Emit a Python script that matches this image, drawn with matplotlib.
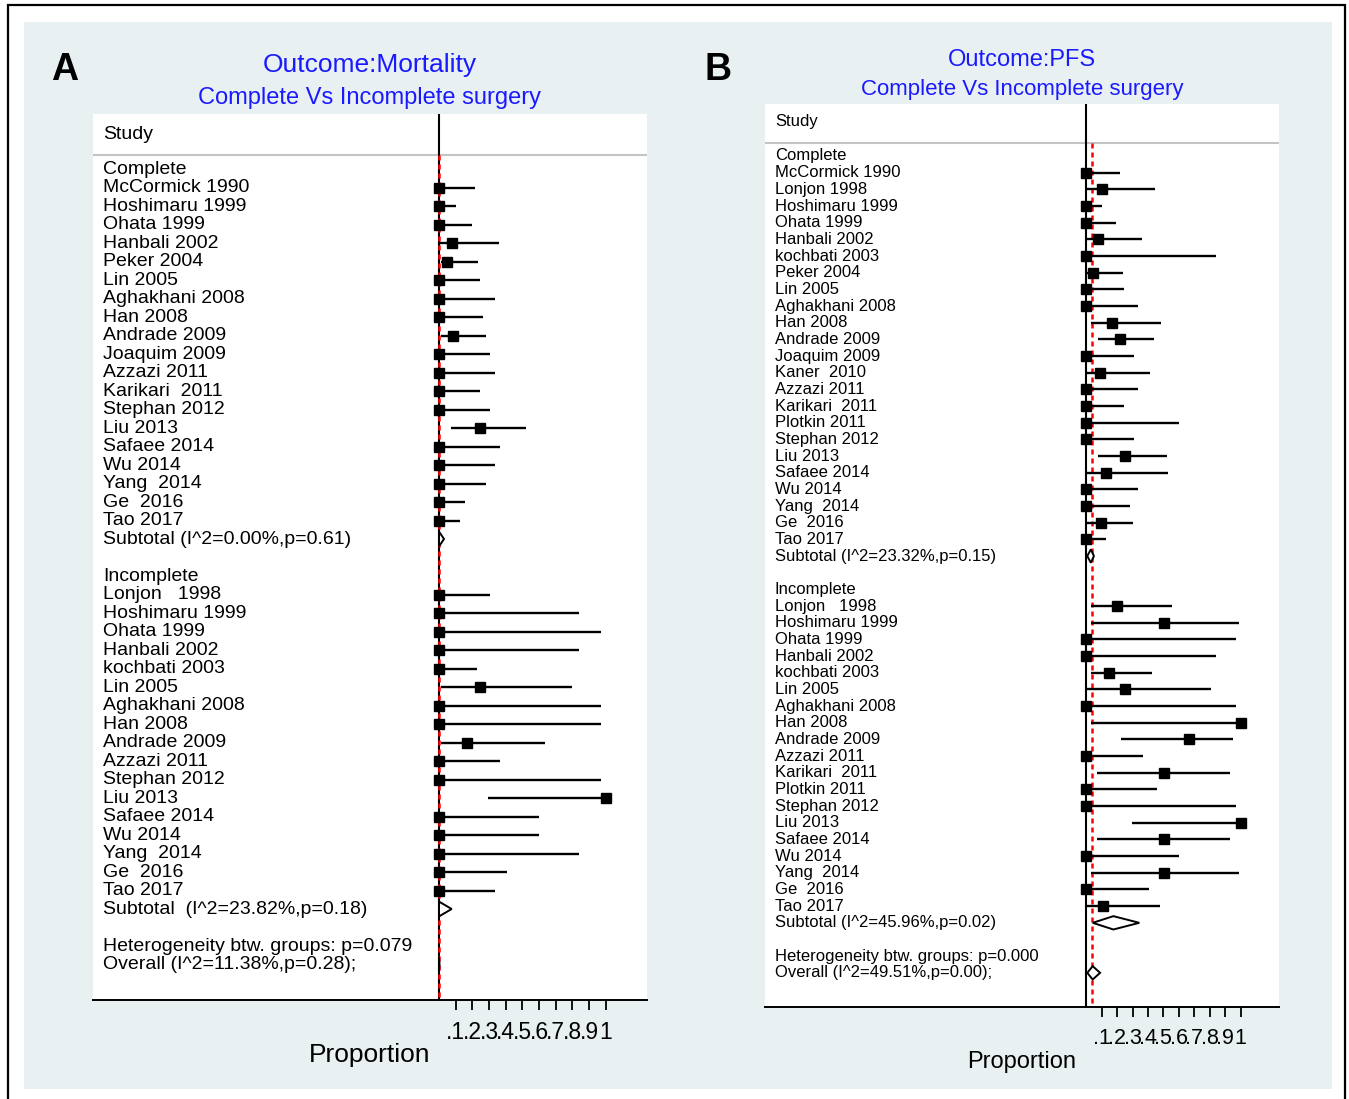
import numpy as np
import matplotlib
matplotlib.use('Agg')
from matplotlib import pyplot as plt
from matplotlib.patches import Rectangle, Polygon

plt.rcParams['font.family'] = ['Liberation Sans', 'DejaVu Sans']

# ---- Panel A: Mortality ----
a_comp_names = ["McCormick 1990", "Hoshimaru 1999", "Ohata 1999", "Hanbali 2002", "Peker 2004",
                "Lin 2005", "Aghakhani 2008", "Han 2008", "Andrade 2009", "Joaquim 2009",
                "Azzazi 2011", "Karikari  2011", "Stephan 2012", "Liu 2013", "Safaee 2014",
                "Wu 2014", "Yang  2014", "Ge  2016", "Tao 2017"]
a_comp_est = [0, 0, 0, 0.076, 0.046, 0, 0, 0, 0.086, 0, 0, 0, 0, 0.248, 0, 0, 0, 0, 0]
a_comp_lo = [0, 0, 0, 0.006, 0.01, 0, 0, 0, 0.01, 0, 0, 0, 0, 0.072, 0, 0, 0, 0, 0]
a_comp_hi = [0.216, 0.10, 0.196, 0.358, 0.236, 0.246, 0.336, 0.262, 0.28, 0.306,
             0.336, 0.246, 0.306, 0.522, 0.368, 0.336, 0.282, 0.158, 0.126]
a_comp_sub = (0.0, 0.0, 0.03)
a_comp_sub_text = "Subtotal (I^2=0.00%,p=0.61)"

a_inc_names = ["Lonjon   1998", "Hoshimaru 1999", "Ohata 1999", "Hanbali 2002", "kochbati 2003",
               "Lin 2005", "Aghakhani 2008", "Han 2008", "Andrade 2009", "Azzazi 2011",
               "Stephan 2012", "Liu 2013", "Safaee 2014", "Wu 2014", "Yang  2014",
               "Ge  2016", "Tao 2017"]
a_inc_est = [0, 0, 0, 0, 0, 0.248, 0, 0, 0.166, 0, 0, 1.0, 0, 0, 0, 0, 0]
a_inc_lo = [0, 0, 0, 0, 0, 0.01, 0, 0, 0.01, 0, 0, 0.292, 0, 0, 0, 0, 0]
a_inc_hi = [0.304, 0.838, 0.97, 0.838, 0.228, 0.8, 0.97, 0.97, 0.638, 0.366,
            0.97, 1.0, 0.598, 0.598, 0.838, 0.408, 0.334]
a_inc_sub = (0.0, 0.0, 0.076)
a_inc_sub_text = "Subtotal  (I^2=23.82%,p=0.18)"

a_overall = (0.0, 0.0, 0.003)
a_het_text = "Heterogeneity btw. groups: p=0.079"
a_overall_text = "Overall (I^2=11.38%,p=0.28);"

# ---- Panel B: PFS ----
b_comp_names = ["McCormick 1990", "Lonjon 1998", "Hoshimaru 1999", "Ohata 1999", "Hanbali 2002",
                "kochbati 2003", "Peker 2004", "Lin 2005", "Aghakhani 2008", "Han 2008",
                "Andrade 2009", "Joaquim 2009", "Kaner  2010", "Azzazi 2011", "Karikari  2011",
                "Plotkin 2011", "Stephan 2012", "Liu 2013", "Safaee 2014", "Wu 2014",
                "Yang  2014", "Ge  2016", "Tao 2017"]
b_comp_est = [0, 0.10, 0, 0, 0.076, 0, 0.046, 0, 0, 0.165, 0.219, 0, 0.092, 0, 0, 0, 0,
              0.252, 0.126, 0, 0, 0.096, 0]
b_comp_lo = [0, 0.003, 0, 0, 0.003, 0, 0.003, 0, 0, 0.03, 0.074, 0, 0.003, 0, 0, 0, 0,
             0.074, 0.003, 0, 0, 0.003, 0]
b_comp_hi = [0.219, 0.444, 0.102, 0.195, 0.36, 0.84, 0.236, 0.245, 0.336, 0.483, 0.437,
             0.308, 0.413, 0.336, 0.245, 0.599, 0.308, 0.524, 0.528, 0.336, 0.284, 0.301, 0.126]
b_comp_sub = (0.03, 0.007, 0.05)
b_comp_sub_text = "Subtotal (I^2=23.32%,p=0.15)"

b_inc_names = ["Lonjon   1998", "Hoshimaru 1999", "Ohata 1999", "Hanbali 2002", "kochbati 2003",
               "Lin 2005", "Aghakhani 2008", "Han 2008", "Andrade 2009", "Azzazi 2011",
               "Karikari  2011", "Plotkin 2011", "Stephan 2012", "Liu 2013", "Safaee 2014",
               "Wu 2014", "Yang  2014", "Ge  2016", "Tao 2017"]
b_inc_est = [0.202, 0.502, 0, 0, 0.146, 0.25, 0, 1.0, 0.666, 0, 0.502, 0, 0, 1.0, 0.502,
             0, 0.502, 0, 0.111]
b_inc_lo = [0.03, 0.03, 0, 0, 0.03, 0.003, 0, 0.03, 0.224, 0, 0.068, 0, 0, 0.295, 0.068,
            0, 0.03, 0, 0.003]
b_inc_hi = [0.556, 0.988, 0.973, 0.84, 0.424, 0.806, 0.973, 1.0, 0.953, 0.366, 0.932,
            0.459, 0.973, 1.0, 0.932, 0.599, 0.988, 0.409, 0.481]
b_inc_sub = (0.176, 0.042, 0.344)
b_inc_sub_text = "Subtotal (I^2=45.96%,p=0.02)"

b_overall = (0.042, 0.007, 0.09)
b_het_text = "Heterogeneity btw. groups: p=0.000"
b_overall_text = "Overall (I^2=49.51%,p=0.00);"

ticks = [0.1, 0.2, 0.3, 0.4, 0.5, 0.6, 0.7, 0.8, 0.9, 1.0]
tick_labels = [".1", ".2", ".3", ".4", ".5", ".6", ".7", ".8", ".9", "1"]

W, H = 1349, 1099
BG = '#e8f0f2'
BLUE = '#1a1aff'

fig = plt.figure(figsize=(W / 100, H / 100), dpi=100)
fig.patch.set_facecolor('white')
fig.patches.append(Rectangle((24 / W, 1 - 1089 / H), (1332 - 24) / W, (1089 - 22) / H,
                             transform=fig.transFigure, facecolor=BG, edgecolor='none', zorder=-3))
fig.patches.append(Rectangle((8 / W, 1 - 1110 / H), (1345 - 8) / W, (1110 - 5) / H,
                             transform=fig.transFigure, facecolor='none', edgecolor='black',
                             lw=1.6, zorder=-2))


def draw_panel(px, zero_px, ppu, row0_px, step, sep_px, groups, overall, het_text,
               overall_text, line_at, fs, tick_fs, tick_pad, xlab_fs, titles, title_fs,
               title_ys, letter, letter_x):
    x0, y0, x1, y1 = px
    ax = fig.add_axes([x0 / W, 1 - y1 / H, (x1 - x0) / W, (y1 - y0) / H])
    ax.set_zorder(2)
    ax.set_facecolor('white')
    ax.set_xlim((x0 - zero_px) / ppu, (x1 - zero_px) / ppu)
    ax.set_ylim((y1 - row0_px) / step, (y0 - row0_px) / step)
    for s in ['top', 'left', 'right']:
        ax.spines[s].set_visible(False)
    ax.spines['bottom'].set_linewidth(1.4)
    ax.set_yticks([])
    ax.set_xticks(ticks)
    ax.set_xticklabels(tick_labels)
    ax.tick_params(axis='x', direction='out', length=7, width=1.3, pad=tick_pad,
                   labelsize=tick_fs)

    tx = (x0 + 10 - zero_px) / ppu
    sep_row = (sep_px - row0_px) / step
    ax.axhline(sep_row, color='#c4c4c4', lw=1.5)
    ax.text(tx, (sep_px - 21 - row0_px) / step, "Study", fontsize=fs, va='center', ha='left')
    ax.axvline(0, color='black', lw=1.5, zorder=2)
    ax.plot([line_at, line_at], [sep_row, ax.get_ylim()[0]], color='red', lw=1.8,
            ls=(0, (2, 1.6)), zorder=3)

    h = 0.4
    r = 0
    for gname, names, est, lo, hi, sub, sub_text in groups:
        ax.text(tx, r, gname, fontsize=fs, va='center', ha='left')
        rows = r + 1 + np.arange(len(names))
        for yy, n in zip(rows, names):
            ax.text(tx, yy, n, fontsize=fs, va='center', ha='left')
        ax.hlines(rows, lo, hi, color='black', lw=1.7, zorder=4)
        ax.plot(est, rows, 's', color='black', ms=7, zorder=5)
        ys = r + len(names) + 1
        ax.text(tx, ys, sub_text, fontsize=fs, va='center', ha='left')
        e, l, u = sub
        ax.add_patch(Polygon([(l, ys), (e, ys - h), (u, ys), (e, ys + h)], closed=True,
                             facecolor='white', edgecolor='black', lw=1.4, zorder=6))
        r = ys + 2
    ax.text(tx, r, het_text, fontsize=fs, va='center', ha='left')
    ax.text(tx, r + 1, overall_text, fontsize=fs, va='center', ha='left')
    e, l, u = overall
    ax.add_patch(Polygon([(l, r + 1), (e, r + 1 - h), (u, r + 1), (e, r + 1 + h)], closed=True,
                         facecolor='white', edgecolor='black', lw=1.4, zorder=6))

    cx = (x0 + x1) / 2 / W
    fig.text(cx, 1 - title_ys[0] / H, titles[0], color=BLUE, fontsize=title_fs[0],
             ha='center', va='center')
    fig.text(cx, 1 - title_ys[1] / H, titles[1], color=BLUE, fontsize=title_fs[1],
             ha='center', va='center')
    fig.text(cx, 1 - (y1 + 55) / H, "Proportion", fontsize=xlab_fs, ha='center', va='center')
    fig.text(letter_x / W, 1 - 70 / H, letter, fontsize=27, fontweight='bold',
             ha='center', va='center')
    return ax


draw_panel((93, 114, 647, 1000), 439, 166.7, 169, 18.5, 155,
           [("Complete", a_comp_names, a_comp_est, a_comp_lo, a_comp_hi, a_comp_sub, a_comp_sub_text),
            ("Incomplete", a_inc_names, a_inc_est, a_inc_lo, a_inc_hi, a_inc_sub, a_inc_sub_text)],
           a_overall, a_het_text, a_overall_text, 0.001, 14, 16.5, 8, 19,
           ("Outcome:Mortality", "Complete Vs Incomplete surgery"), (19, 17), (65, 98), "A", 65)

draw_panel((765, 104, 1279, 1007), 1086.2, 154.4, 156, 16.67, 143,
           [("Complete", b_comp_names, b_comp_est, b_comp_lo, b_comp_hi, b_comp_sub, b_comp_sub_text),
            ("Incomplete", b_inc_names, b_inc_est, b_inc_lo, b_inc_hi, b_inc_sub, b_inc_sub_text)],
           b_overall, b_het_text, b_overall_text, 0.038, 12, 15.5, 8, 17,
           ("Outcome:PFS", "Complete Vs Incomplete surgery"), (17, 16), (60, 90), "B", 718)

fig.savefig('out.png', dpi=100, facecolor=fig.get_facecolor())
